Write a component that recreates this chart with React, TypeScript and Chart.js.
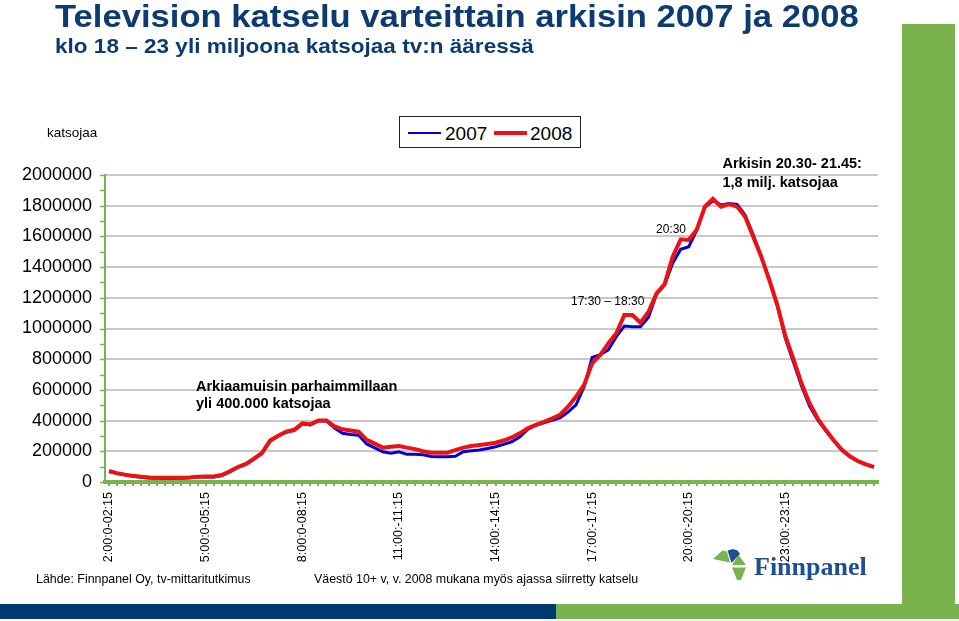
import React, { useEffect, useRef } from "react";
import { Chart, registerables } from "chart.js";

Chart.register(...registerables);

// ---------- DATA ----------
const CATEGORIES: string[] = [];
for (let i = 0; i < 96; i++) {
  const h = 2 + Math.floor(i / 4);
  const m = (i % 4) * 15;
  CATEGORIES.push(`${h}:${m === 0 ? "00" : m}`);
}

const TICK_LABELS = [
  "2:00:0-02:15",
  "5:00:0-05:15",
  "8:00:0-08:15",
  "11:00:-11:15",
  "14:00:-14:15",
  "17:00:-17:15",
  "20:00:-20:15",
  "23:00:-23:15",
];

const SERIES_2007 = [
  68000, 55000, 45000, 37000, 31000, 26000, 25000, 25000, 25000, 25000, 27000, 32000,
  33000, 33000, 42000, 66000, 95000, 115000, 148000, 186000, 266000, 298000, 324000, 336000,
  378000, 372000, 398000, 398000, 352000, 317000, 310000, 305000, 248000, 222000, 197000, 187000,
  197000, 180000, 180000, 177000, 166000, 165000, 165000, 168000, 197000, 203000, 208000, 218000,
  230000, 245000, 262000, 293000, 342000, 370000, 385000, 402000, 418000, 455000, 502000, 620000,
  812000, 830000, 860000, 947000, 1016000, 1012000, 1012000, 1073000, 1225000, 1283000, 1425000, 1516000,
  1533000, 1640000, 1790000, 1832000, 1805000, 1815000, 1808000, 1740000, 1610000, 1470000, 1320000, 1148000,
  935000, 780000, 625000, 495000, 405000, 335000, 268000, 208000, 165000, 135000, 114000, 97000,
];

const SERIES_2008 = [
  72000, 58000, 48000, 40000, 34000, 29000, 28000, 28000, 28000, 28000, 30000, 35000,
  36000, 36000, 45000, 70000, 98000, 118000, 152000, 190000, 270000, 302000, 328000, 340000,
  382000, 376000, 400000, 400000, 362000, 343000, 335000, 328000, 274000, 250000, 224000, 230000,
  235000, 224000, 214000, 200000, 191000, 191000, 191000, 208000, 224000, 234000, 241000, 248000,
  256000, 270000, 290000, 317000, 350000, 372000, 392000, 413000, 438000, 490000, 556000, 632000,
  773000, 827000, 903000, 969000, 1088000, 1088000, 1038000, 1109000, 1229000, 1290000, 1468000, 1581000,
  1577000, 1646000, 1794000, 1845000, 1794000, 1811000, 1794000, 1728000, 1598000, 1468000, 1316000, 1153000,
  950000, 800000, 643000, 513000, 415000, 340000, 272000, 212000, 168000, 137000, 115000, 98000,
];

const SERIES_LABELS = ["2007", "2008"];
const Y_MIN = 0;
const Y_MAX = 2000000;
const Y_STEP = 200000;
const Y_MINOR_STEP = 100000;

// ---------- STYLE ----------
const FONT = "Arial, 'Liberation Sans', Helvetica, sans-serif";
const GREEN = "#7ab24e";
const NAVY = "#0b3b70";
const BLUE = "#0000dd";
const RED = "#ee1111";

const minorTicksPlugin = {
  id: "minorTicks",
  afterDraw(chart: any) {
    const ctx = chart.ctx;
    const y = chart.scales.y;
    const left = chart.chartArea.left;
    ctx.save();
    ctx.strokeStyle = GREEN;
    ctx.lineWidth = 1.5;
    for (let v = Y_MIN; v <= Y_MAX; v += Y_MINOR_STEP) {
      const py = Math.round(y.getPixelForValue(v)) + 0.5;
      ctx.beginPath();
      ctx.moveTo(left - 5, py);
      ctx.lineTo(left, py);
      ctx.stroke();
    }
    ctx.restore();
  },
};

function Txt(props: {
  x: number;
  base: number;
  size: number;
  bold?: boolean;
  color?: string;
  family?: string;
  scaleX?: number;
  children: React.ReactNode;
}) {
  const { x, base, size, bold, color, family, scaleX, children } = props;
  return (
    <div
      style={{
        position: "absolute",
        left: x,
        top: base - 0.8465 * size,
        fontSize: size,
        lineHeight: `${size}px`,
        fontWeight: bold ? "bold" : "normal",
        color: color || "#000",
        fontFamily: family || FONT,
        whiteSpace: "nowrap",
        transform: scaleX ? `scaleX(${scaleX})` : undefined,
        transformOrigin: "left top",
      }}
    >
      {children}
    </div>
  );
}

export default function App() {
  const ref = useRef<HTMLCanvasElement>(null);

  useEffect(() => {
    if (!ref.current) return;
    const chart = new Chart(ref.current, {
      type: "line",
      data: {
        labels: CATEGORIES,
        datasets: [
          {
            label: SERIES_LABELS[0],
            data: SERIES_2007,
            borderColor: BLUE,
            backgroundColor: BLUE,
            borderWidth: 3,
            pointRadius: 0,
            tension: 0,
            order: 1,
          },
          {
            label: SERIES_LABELS[1],
            data: SERIES_2008,
            borderColor: RED,
            backgroundColor: RED,
            borderWidth: 4,
            pointRadius: 0,
            tension: 0,
            order: 0,
          },
        ],
      },
      options: {
        responsive: false,
        animation: false,
        devicePixelRatio: 1,
        layout: { padding: { top: 175, left: 0, right: 81, bottom: 0 } },
        plugins: {
          legend: { display: false },
          tooltip: { enabled: false },
          title: { display: false },
        },
        scales: {
          x: {
            type: "category",
            offset: true,
            afterFit(scale: any) {
              scale.height = 139;
            },
            grid: {
              display: true,
              drawOnChartArea: false,
              drawTicks: true,
              tickLength: 4,
              color: GREEN,
              lineWidth: 2,
            },
            border: { display: true, color: GREEN, width: 4 },
            ticks: {
              autoSkip: false,
              maxRotation: 90,
              minRotation: 90,
              padding: 6,
              color: "#000",
              font: { family: FONT, size: 12.5 },
              callback: (_v: any, i: number) => (i % 12 === 0 ? TICK_LABELS[i / 12] : ""),
            },
          },
          y: {
            min: Y_MIN,
            max: Y_MAX,
            afterFit(scale: any) {
              scale.width = 105;
            },
            grid: {
              display: true,
              drawTicks: false,
              color: "#c8c8c8",
              lineWidth: 2,
            },
            border: { display: true, color: GREEN, width: 2 },
            ticks: {
              stepSize: Y_STEP,
              padding: 13,
              color: "#000",
              font: { family: FONT, size: 18 },
              callback: (v: any) => String(v),
            },
          },
        },
      },
      plugins: [minorTicksPlugin],
    } as any);
    return () => chart.destroy();
  }, []);

  return (
    <div
      style={{
        position: "absolute",
        left: 0,
        top: 0,
        width: 959,
        height: 621,
        overflow: "hidden",
        background: "#fff",
        fontFamily: FONT,
      }}
    >
      {/* decorative bands */}
      <div style={{ position: "absolute", left: 902, top: 24, width: 53, height: 582, background: GREEN }} />
      <div style={{ position: "absolute", left: 0, top: 604, width: 556, height: 15, background: "#003a70" }} />
      <div style={{ position: "absolute", left: 556, top: 604, width: 403, height: 15, background: GREEN }} />

      <canvas
        ref={ref}
        width={959}
        height={621}
        style={{ position: "absolute", left: 0, top: 0, width: 959, height: 621 }}
      />

      {/* titles */}
      <Txt x={55} base={27} size={30.5} bold color={NAVY} scaleX={1.135}>
        Television katselu varteittain arkisin 2007 ja 2008
      </Txt>
      <Txt x={55} base={53} size={20.5} bold color={NAVY} scaleX={1.1}>
        klo 18 – 23 yli miljoona katsojaa tv:n ääressä
      </Txt>

      <Txt x={47} base={137} size={13.5}>
        katsojaa
      </Txt>

      {/* legend */}
      <div
        style={{
          position: "absolute",
          left: 399,
          top: 116,
          width: 180,
          height: 30,
          border: "1px solid #222",
          background: "#fff",
        }}
      />
      <div style={{ position: "absolute", left: 408, top: 132, width: 33, height: 2, background: BLUE }} />
      <Txt x={445} base={140} size={19}>
        {SERIES_LABELS[0]}
      </Txt>
      <div style={{ position: "absolute", left: 494, top: 131, width: 33, height: 4, background: RED }} />
      <Txt x={530} base={140} size={19}>
        {SERIES_LABELS[1]}
      </Txt>

      {/* annotations */}
      <Txt x={196} base={391} size={14.5} bold>
        Arkiaamuisin parhaimmillaan
      </Txt>
      <Txt x={196} base={408.5} size={14.5} bold>
        yli 400.000 katsojaa
      </Txt>
      <Txt x={571} base={305.5} size={12}>
        17:30 – 18:30
      </Txt>
      <Txt x={656} base={233.6} size={12}>
        20:30
      </Txt>
      <Txt x={722.5} base={168.7} size={14.5} bold>
        Arkisin 20.30- 21.45:
      </Txt>
      <Txt x={722.5} base={187} size={14.5} bold>
        1,8 milj. katsojaa
      </Txt>

      {/* footer */}
      <Txt x={36} base={583} size={12.4}>
        Lähde: Finnpanel Oy, tv-mittaritutkimus
      </Txt>
      <Txt x={314} base={583} size={12.4}>
        Väestö 10+ v, v. 2008 mukana myös ajassa siirretty katselu
      </Txt>

      {/* logo */}
      <svg
        width={959}
        height={621}
        style={{ position: "absolute", left: 0, top: 0, pointerEvents: "none" }}
      >
        <polygon points="713,559 722.5,550.5 727,551.5 730,562.5" fill={GREEN} />
        <polygon points="727.5,550.5 733,549 737.5,550.5 740,554 731.5,563" fill="#1e4f91" />
        <polygon points="738.5,555 746,565 732,565" fill={GREEN} />
        <polygon points="732,567.5 746,567.5 741,580 737,580" fill={GREEN} />
      </svg>
      <Txt x={754} base={576} size={26} bold color="#1e4f91" family="'Liberation Serif', 'Times New Roman', serif">
        Finnpanel
      </Txt>
    </div>
  );
}
